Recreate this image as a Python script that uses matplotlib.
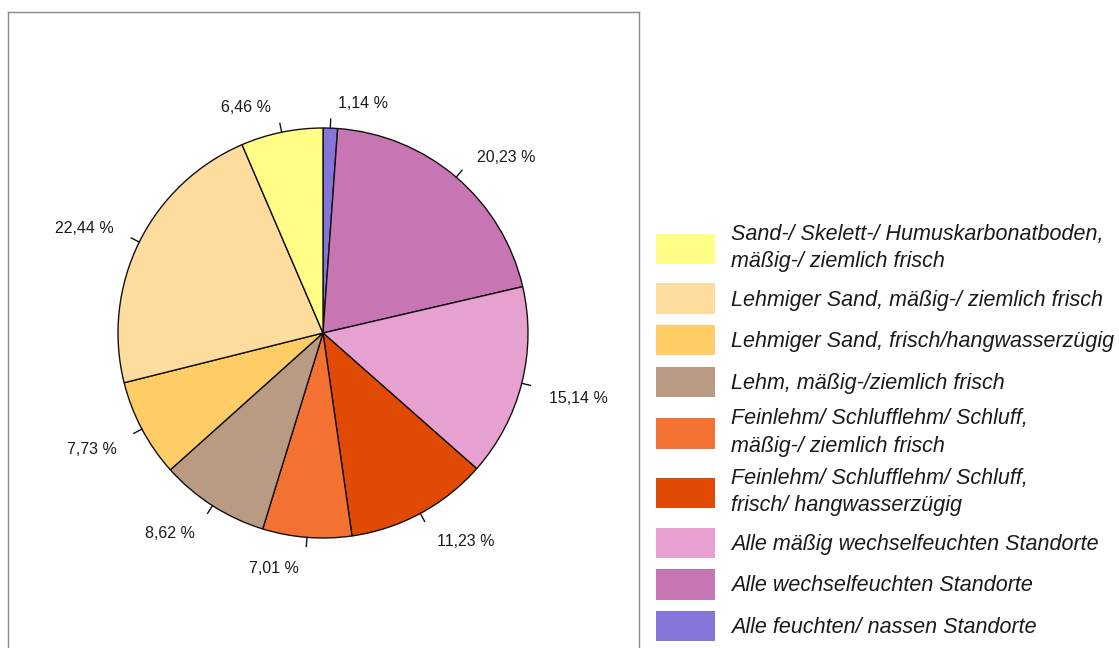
import numpy as np
import matplotlib
matplotlib.use("Agg")
import matplotlib.pyplot as plt
from matplotlib.patches import Patch

# ---- data (legend order) ----
categories = [
    "Sand-/ Skelett-/ Humuskarbonatboden,\nmäßig-/ ziemlich frisch",
    "Lehmiger Sand, mäßig-/ ziemlich frisch",
    "Lehmiger Sand, frisch/hangwasserzügig",
    "Lehm, mäßig-/ziemlich frisch",
    "Feinlehm/ Schlufflehm/ Schluff,\nmäßig-/ ziemlich frisch",
    "Feinlehm/ Schlufflehm/ Schluff,\nfrisch/ hangwasserzügig",
    "Alle mäßig wechselfeuchten Standorte",
    "Alle wechselfeuchten Standorte",
    "Alle feuchten/ nassen Standorte",
]
values = [6.46, 22.44, 7.73, 8.62, 7.01, 11.23, 15.14, 20.23, 1.14]
colors = ["#FFFF88", "#FEDC9E", "#FFCC66", "#B99B84", "#F37232",
          "#E04A04", "#E6A1D0", "#C875B4", "#8476D8"]

W, H = 1119, 648
fig = plt.figure(figsize=(W / 100, H / 100), dpi=100)
fig.patch.set_facecolor("white")

# axes in pixel-like units: frame from x=8..639, y=12..(below image)
left_px, right_px, top_px, bot_px = 8, 639, 12, 662
cx, cy = 323, 333
R = 205
ax = fig.add_axes([left_px / W, 1 - bot_px / H, (right_px - left_px) / W, (bot_px - top_px) / H])

# pie drawn clockwise from top, starting with the last legend entry
pie_vals = values[::-1]
pie_cols = colors[::-1]
wedges, _ = ax.pie(pie_vals, colors=pie_cols, startangle=90, counterclock=False,
                   radius=R, center=(0, 0),
                   wedgeprops=dict(edgecolor="#111111", linewidth=1.0))

ax.set_xlim(left_px - cx, right_px - cx)
ax.set_ylim(cy - bot_px, cy - top_px)
ax.set_aspect("auto")
ax.set_frame_on(True)
for s in ax.spines.values():
    s.set_color("#8a8a8a")
    s.set_linewidth(1.0)
ax.set_xticks([])
ax.set_yticks([])

# leader ticks and percentage labels
for w, v in zip(wedges, pie_vals):
    ang = np.deg2rad((w.theta1 + w.theta2) / 2)
    c, s = np.cos(ang), np.sin(ang)
    ax.plot([R * c, (R + 9) * c], [R * s, (R + 9) * s], color="#111111", lw=1.0)
    lx = 1.1 * R * c + (7 if c >= 0 else -7)
    ly = 1.1 * R * s - 3
    ha = "left" if c >= 0 else "right"
    va = "bottom" if s >= 0 else "top"
    txt = f"{v:.2f}".replace(".", ",") + " %"
    ax.text(lx, ly, txt, ha=ha, va=va, fontsize=11.5,
            family=["Liberation Sans", "DejaVu Sans"], color="#1a1a1a")

# legend
handles = [Patch(facecolor=c, edgecolor="none") for c in colors]
leg = fig.legend(handles, categories, loc="upper left",
                 bbox_to_anchor=(645 / W, 1 - 213 / H),
                 frameon=False, handlelength=2.75, handleheight=1.8,
                 handletextpad=0.75, labelspacing=0.52, borderpad=0.0,
                 prop=dict(family=["Liberation Sans", "DejaVu Sans"], style="italic", size=15.5))
for t in leg.get_texts():
    t.set_color("#1a1a1a")
    t.set_linespacing(1.4)

fig.savefig("out.png", dpi=100, facecolor="white")
